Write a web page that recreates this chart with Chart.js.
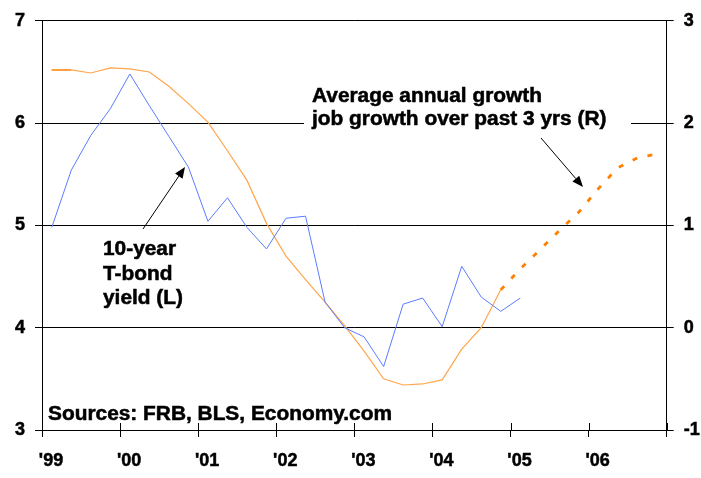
<!DOCTYPE html>
<html>
<head>
<meta charset="utf-8">
<script src="https://cdn.jsdelivr.net/npm/chart.js@4.4.1/dist/chart.umd.min.js"></script>
<style>
  html, body { margin: 0; padding: 0; background: #fff; }
  #wrap { width: 701px; height: 478px; }
</style>
</head>
<body>
<div id="wrap"><canvas id="line_chart" width="701" height="478"></canvas></div>
<script>
// quarterly observations, plotted at the middle of each quarter
const quarters = [
  '1999Q1','1999Q2','1999Q3','1999Q4','2000Q1','2000Q2','2000Q3','2000Q4',
  '2001Q1','2001Q2','2001Q3','2001Q4','2002Q1','2002Q2','2002Q3','2002Q4',
  '2003Q1','2003Q2','2003Q3','2003Q4','2004Q1','2004Q2','2004Q3','2004Q4',
  '2005Q1','2005Q2','2005Q3','2005Q4','2006Q1','2006Q2','2006Q3','2006Q4'
];
// 10-year T-bond yield, % (left axis)
const bondYield = [
  4.98, 5.54, 5.88, 6.14, 6.48, 6.17, 5.87, 5.57,
  5.04, 5.27, 4.98, 4.77, 5.07, 5.09, 4.25, 4.00,
  3.91, 3.62, 4.23, 4.29, 4.01, 4.60, 4.30, 4.16,
  4.29
];
// job growth, avg annual % over past 3 yrs (right axis)
const jobGrowth = [
  2.52, 2.52, 2.49, 2.54, 2.53, 2.50, 2.36, 2.19,
  2.01, 1.73, 1.44, 1.02, 0.70, 0.47, 0.25, 0.02,
  -0.23, -0.50, -0.56, -0.55, -0.51, -0.21, 0.00, 0.37
];
// forecast part (dotted)
const jobForecast = [
  2.52, 2.52, null, null, null, null, null, null,
  null, null, null, null, null, null, null, null,
  null, null, null, null, null, null, null, 0.37,
  0.575, 0.76, 0.95, 1.13, 1.36, 1.565, 1.66, 1.70
];
const years = [1999, 2000, 2001, 2002, 2003, 2004, 2005, 2006, 2007];

function qx(q) {
  return Number(q.slice(0, 4)) + (Number(q.slice(5)) - 0.5) / 4;
}
function toPoints(vals) {
  return vals.map((v, i) => ({ x: qx(quarters[i]), y: v }));
}

Chart.defaults.font.family = "'Liberation Sans', Arial, sans-serif";
Chart.defaults.color = '#000';

const FONT = "bold 19.5px 'Liberation Sans', Arial, sans-serif";

function label(ctx, txt, x, y) {
  ctx.save();
  ctx.translate(x, y);
  ctx.scale(1.07, 1);
  ctx.strokeText(txt, 0, 0);
  ctx.fillText(txt, 0, 0);
  ctx.restore();
}

function arrow(ctx, x1, y1, x2, y2) {
  const a = Math.atan2(y2 - y1, x2 - x1);
  const len = 11, w = 4.5;
  ctx.beginPath();
  ctx.moveTo(x1, y1);
  ctx.lineTo(x2 - Math.cos(a) * len, y2 - Math.sin(a) * len);
  ctx.stroke();
  ctx.beginPath();
  ctx.moveTo(x2, y2);
  ctx.lineTo(x2 - Math.cos(a) * len - Math.sin(a) * w, y2 - Math.sin(a) * len + Math.cos(a) * w);
  ctx.lineTo(x2 - Math.cos(a) * len + Math.sin(a) * w, y2 - Math.sin(a) * len - Math.cos(a) * w);
  ctx.closePath();
  ctx.fill();
}

const notes = {
  id: 'notes',
  beforeDatasetsDraw(chart) {
    const ctx = chart.ctx;
    const xs = chart.scales.x;
    // tick marks also cross into the plot
    ctx.save();
    ctx.strokeStyle = '#000';
    ctx.lineWidth = 1;
    years.forEach(y => {
      const px = Math.round(xs.getPixelForValue(y)) + 0.5;
      ctx.beginPath();
      ctx.moveTo(px, xs.top - 7);
      ctx.lineTo(px, xs.top);
      ctx.stroke();
    });
    // white box behind the right-hand label
    ctx.fillStyle = '#fff';
    ctx.fillRect(304, 82, 327, 50);
    ctx.restore();
  },
  afterDatasetsDraw(chart) {
    const ctx = chart.ctx;
    ctx.save();
    ctx.fillStyle = '#000';
    ctx.strokeStyle = '#000';
    ctx.lineWidth = 1;
    arrow(ctx, 143, 229, 185, 167);
    arrow(ctx, 541, 138, 583, 187);
    ctx.font = FONT;
    ctx.lineWidth = 0.5;
    ctx.textAlign = 'left';
    ctx.textBaseline = 'alphabetic';
    label(ctx, 'Average annual growth', 312, 102);
    label(ctx, 'job growth over past 3 yrs (R)', 312, 125);
    label(ctx, '10-year', 103, 255);
    label(ctx, 'T-bond', 103, 280);
    label(ctx, 'yield (L)', 103, 304);
    label(ctx, 'Sources: FRB, BLS, Economy.com', 48, 420);
    ctx.restore();
  }
};

const chart_data = {
  datasets: [
    {
      label: '10-year T-bond yield (L)',
      data: toPoints(bondYield),
      yAxisID: 'y',
      borderColor: '#5b7cff',
      borderWidth: 1,
      pointRadius: 0,
      tension: 0
    },
    {
      label: 'Job growth (R)',
      data: toPoints(jobGrowth),
      yAxisID: 'y1',
      borderColor: '#ffa64d',
      borderWidth: 1.2,
      pointRadius: 0,
      tension: 0
    },
    {
      label: 'Job growth forecast (R)',
      data: toPoints(jobForecast),
      yAxisID: 'y1',
      borderColor: '#ff7f00',
      borderWidth: 2.8,
      borderCapStyle: 'butt',
      pointRadius: 0,
      tension: 0,
      spanGaps: false,
      segment: {
        borderDash: c => c.p0DataIndex < 2 ? [] : [5, 10.5],
        borderWidth: c => c.p0DataIndex < 2 ? 1.8 : 2.8
      }
    }
  ]
};

const tickFont = { size: 18, weight: 'bold', family: "'Liberation Sans', Arial, sans-serif" };

const options = {
  responsive: false,
  animation: false,
  layout: { padding: { top: 16, left: 0, right: 0, bottom: 0 } },
  plugins: { legend: { display: false }, tooltip: { enabled: false } },
  scales: {
    x: {
      type: 'linear',
      min: 1999,
      max: 2007,
      afterFit: s => { s.height = 48; },
      afterBuildTicks: s => { s.ticks = years.map(v => ({ value: v })); },
      grid: { drawOnChartArea: false, drawTicks: true, tickLength: 7, color: '#000', lineWidth: 1 },
      border: { color: '#000', width: 1 },
      ticks: {
        font: tickFont,
        padding: 13,
        labelOffset: 9,
        maxRotation: 0,
        autoSkip: false,
        textStrokeColor: '#000',
        textStrokeWidth: 0.5,
        callback: v => v < 2007 ? "'" + String(v).slice(2) : ''
      }
    },
    y: {
      position: 'left',
      min: 3,
      max: 7,
      afterFit: s => { s.width = 42; },
      grid: { color: '#000', lineWidth: 1, drawTicks: true, tickLength: 7 },
      border: { color: '#000', width: 1 },
      ticks: { stepSize: 1, font: tickFont, padding: 10, textStrokeColor: '#000', textStrokeWidth: 0.5 }
    },
    y1: {
      position: 'right',
      min: -1,
      max: 3,
      afterFit: s => { s.width = 34.3; },
      grid: { drawOnChartArea: false, color: '#000', lineWidth: 1, drawTicks: true, tickLength: 7 },
      border: { color: '#000', width: 1 },
      ticks: { stepSize: 1, font: tickFont, padding: 10, textStrokeColor: '#000', textStrokeWidth: 0.5 }
    }
  }
};

const line_chart = new Chart(document.getElementById('line_chart'), {
  type: 'line',
  data: chart_data,
  options: options,
  plugins: [notes]
});
</script>
</body>
</html>
